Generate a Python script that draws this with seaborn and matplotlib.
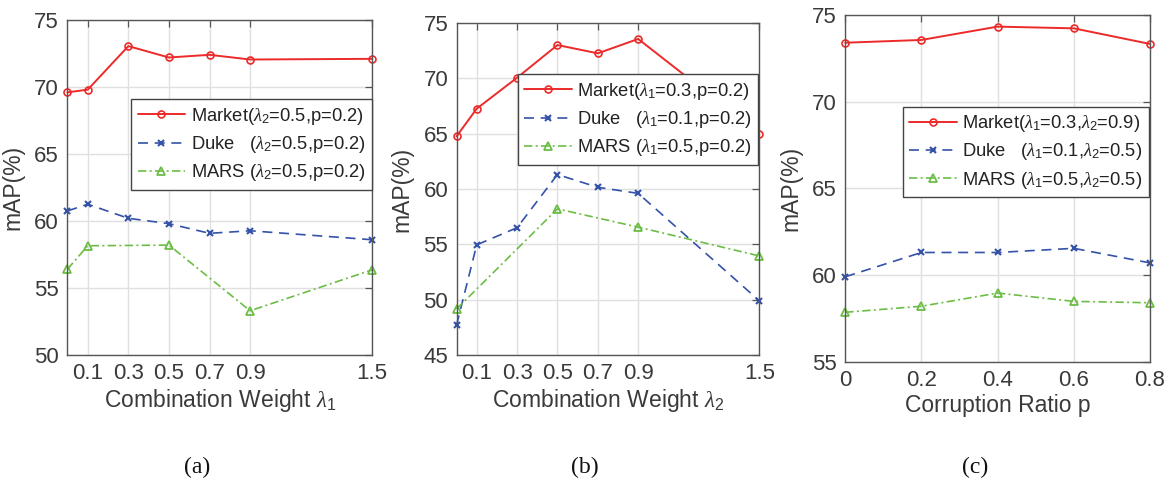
import numpy as np
import pandas as pd
import matplotlib
matplotlib.use("Agg")
import matplotlib.pyplot as plt
import seaborn as sns

# ---------------- data ----------------
# (a) combination weight lambda_1
lam1_x = [0.0, 0.1, 0.3, 0.5, 0.7, 0.9, 1.5]
a_market = [69.6, 69.8, 73.05, 72.2, 72.4, 72.05, 72.1]
a_duke = [60.75, 61.25, 60.2, 59.8, 59.08, 59.27, 58.6]
a_mars_x = [0.0, 0.1, 0.5, 0.9, 1.5]
a_mars = [56.4, 58.15, 58.2, 53.3, 56.35]

# (b) combination weight lambda_2
lam2_x = [0.0, 0.1, 0.3, 0.5, 0.7, 0.9, 1.5]
b_market = [64.75, 67.25, 70.05, 73.0, 72.25, 73.55, 65.0]
b_duke = [47.7, 54.95, 56.5, 61.3, 60.15, 59.6, 49.9]
b_mars_x = [0.0, 0.5, 0.9, 1.5]
b_mars = [49.15, 58.2, 56.55, 53.95]

# (c) corruption ratio p
p_x = [0.0, 0.2, 0.4, 0.6, 0.8]
c_market = [73.4, 73.56, 74.33, 74.23, 73.33]
c_duke = [59.9, 61.3, 61.3, 61.54, 60.7]
c_mars = [57.85, 58.2, 58.96, 58.48, 58.4]

xtick_ab = [0.1, 0.3, 0.5, 0.7, 0.9, 1.5]
xtick_ab_labels = ["0.1", "0.3", "0.5", "0.7", "0.9", "1.5"]
xtick_c = [0, 0.2, 0.4, 0.6, 0.8]
xtick_c_labels = ["0", "0.2", "0.4", "0.6", "0.8"]

legend_a = [r"Market($\lambda_2$=0.5,p=0.2)", r"Duke   ($\lambda_2$=0.5,p=0.2)", r"MARS ($\lambda_2$=0.5,p=0.2)"]
legend_b = [r"Market($\lambda_1$=0.3,p=0.2)", r"Duke   ($\lambda_1$=0.1,p=0.2)", r"MARS ($\lambda_1$=0.5,p=0.2)"]
legend_c = [r"Market($\lambda_1$=0.3,$\lambda_2$=0.9)", r"Duke   ($\lambda_1$=0.1,$\lambda_2$=0.5)", r"MARS ($\lambda_1$=0.5,$\lambda_2$=0.5)"]

# ---------------- style ----------------
sns.set_theme(style="white")
plt.rcParams["font.family"] = ["Liberation Sans", "DejaVu Sans"]
plt.rcParams["mathtext.fontset"] = "custom"
plt.rcParams["mathtext.rm"] = "Liberation Sans"
plt.rcParams["mathtext.it"] = "Liberation Serif:italic"
plt.rcParams["mathtext.cal"] = "Liberation Sans"

TXT = "#3a3a3a"
RED = "#ec2a2a"
BLUE = "#3352a8"
GREEN = "#6cbd45"
GRID = "#e0e0e0"

fig = plt.figure(figsize=(11.73, 4.79), dpi=100)

axes_pos = [
    [0.0575, 0.2589, 0.2596, 0.6994],
    [0.3892, 0.2589, 0.2581, 0.6933],
    [0.7206, 0.2449, 0.2598, 0.7238],
]

panels = [
    dict(x=lam1_x, m=a_market, d=a_duke, sx=a_mars_x, s=a_mars, ylim=(50, 75), yt=[50, 55, 60, 65, 70, 75],
         xlim=(0, 1.5), xt=xtick_ab, xtl=xtick_ab_labels, xlabel=r"Combination Weight $\lambda_1$",
         leg=legend_a, legpos=(1.0, 0.763), cap="(a)"),
    dict(x=lam2_x, m=b_market, d=b_duke, sx=b_mars_x, s=b_mars, ylim=(45, 75), yt=[45, 50, 55, 60, 65, 70, 75],
         xlim=(0, 1.5), xt=xtick_ab, xtl=xtick_ab_labels, xlabel=r"Combination Weight $\lambda_2$",
         leg=legend_b, legpos=(0.997, 0.845), cap="(b)"),
    dict(x=p_x, m=c_market, d=c_duke, sx=p_x, s=c_mars, ylim=(55, 75), yt=[55, 60, 65, 70, 75],
         xlim=(0, 0.8), xt=xtick_c, xtl=xtick_c_labels, xlabel="Corruption Ratio p",
         leg=legend_c, legpos=(0.997, 0.7355), cap="(c)"),
]

for pos, P in zip(axes_pos, panels):
    ax = fig.add_axes(pos)
    sns.lineplot(x=P["x"], y=P["m"], ax=ax, color=RED, marker="o", markersize=5,
                 markerfacecolor="none", markeredgecolor=RED, markeredgewidth=1.2,
                 linewidth=1.4, label=P["leg"][0], clip_on=False)
    sns.lineplot(x=P["x"], y=P["d"], ax=ax, color=BLUE, marker="x", markersize=4,
                 markeredgecolor=BLUE, markeredgewidth=1.5, linewidth=1.2,
                 linestyle=(0, (6, 4)), label=P["leg"][1], clip_on=False)
    sns.lineplot(x=P["sx"], y=P["s"], ax=ax, color=GREEN, marker="^", markersize=6,
                 markerfacecolor="none", markeredgecolor=GREEN, markeredgewidth=1.3,
                 linewidth=1.2, linestyle=(0, (5, 2, 1.2, 2)),
                 label=P["leg"][2], clip_on=False)
    ax.set_xlim(*P["xlim"])
    ax.set_ylim(*P["ylim"])
    ax.set_xticks(P["xt"])
    ax.set_xticklabels(P["xtl"])
    ax.set_yticks(P["yt"])
    ax.grid(True, color=GRID, linewidth=1.0)
    ax.set_axisbelow(True)
    for sp in ax.spines.values():
        sp.set_visible(True)
        sp.set_color("#555555")
        sp.set_linewidth(1.0)
    ax.tick_params(direction="in", length=5, width=0.9, color="#555555", top=True, right=True,
                   labelsize=16, labelcolor=TXT, pad=6)
    ax.set_xlabel(P["xlabel"], fontsize=16.5, color=TXT, labelpad=2)
    ax.set_ylabel("mAP(%)", fontsize=16.5, color=TXT, labelpad=7)
    leg = ax.legend(loc="upper right", bbox_to_anchor=P["legpos"], borderaxespad=0,
                    fontsize=13.2, frameon=True, fancybox=False, framealpha=1,
                    edgecolor="#444444", handlelength=2.6, handletextpad=0.3,
                    borderpad=0.35, labelspacing=0.4)
    leg.get_frame().set_linewidth(1.0)
    for t in leg.get_texts():
        t.set_color("#222222")
    cx = pos[0] + pos[2] / 2
    fig.text(cx - 0.0196, 0.025, P["cap"], ha="center", va="center", fontsize=17,
             family="Liberation Serif", color="#111111")

fig.savefig("out.png", dpi=100)
